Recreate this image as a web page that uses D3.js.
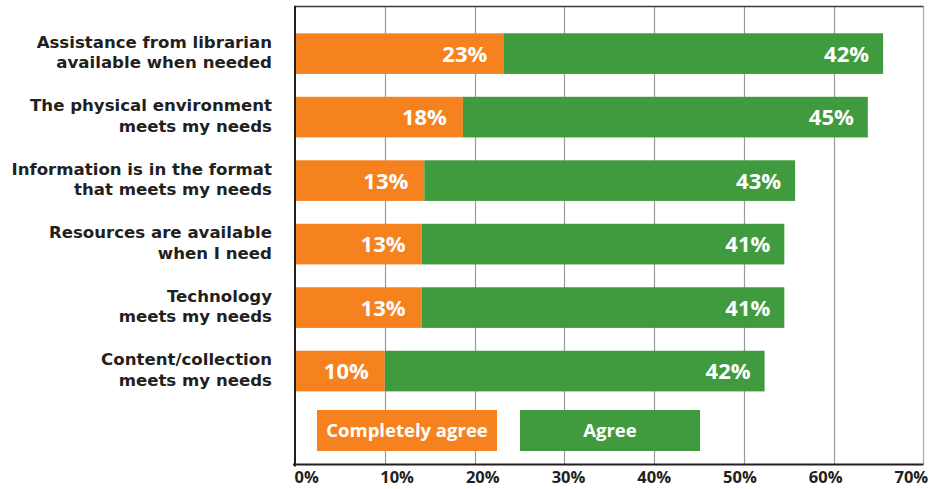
<!DOCTYPE html>
<html>
<head>
<meta charset="utf-8">
<script src="https://cdn.jsdelivr.net/npm/d3@7"></script>
<style>
  html, body { margin: 0; padding: 0; background: #ffffff; }
  svg { display: block; }
  text { font-family: "Open Sans", "Noto Sans", sans-serif; font-weight: 700; }
  text.cat { font-family: "DejaVu Sans", sans-serif; font-weight: 700; }
</style>
</head>
<body>
<svg id="chart" width="939" height="489"></svg>
<script>
// ---- data ----
const categories = [
  ["Assistance from librarian", "available when needed"],
  ["The physical environment", "meets my needs"],
  ["Information is in the format", "that meets my needs"],
  ["Resources are available", "when I need"],
  ["Technology", "meets my needs"],
  ["Content/collection", "meets my needs"]
];
const completelyAgree = [23.2, 18.7, 14.4, 14.1, 14.1, 10.0];
const agree = [42.3, 45.1, 41.3, 40.4, 40.4, 42.3];
const completelyAgreeLabels = ["23%", "18%", "13%", "13%", "13%", "10%"];
const agreeLabels = ["42%", "45%", "43%", "41%", "41%", "42%"];
const seriesNames = ["Completely agree", "Agree"];
const tickValues = [0, 10, 20, 30, 40, 50, 60, 70];
const tickLabels = ["0%", "10%", "20%", "30%", "40%", "50%", "60%", "70%"];

// ---- layout ----
const orange = "#F5821F", green = "#3F9B3D", ink = "#231F20";
const plotL = 295, plotR = 923.5, plotT = 6.5, plotB = 464.5;
const svg = d3.select("#chart");

const x = d3.scaleLinear().domain([0, 70]).range([plotL, plotR]);
const labelX = d3.scaleLinear().domain([0, 70]).range([294, 894]);
const idx = categories.map((d, i) => i);
const y = d3.scaleBand().domain(idx).range([33.3, 391.4]).paddingInner(0.36).paddingOuter(0);

// gridlines
svg.append("g").selectAll("line").data(tickValues.filter(v => v > 0 && v < 70)).join("line")
  .attr("x1", d => Math.round(x(d)) + 0.5).attr("x2", d => Math.round(x(d)) + 0.5)
  .attr("y1", plotT).attr("y2", plotB)
  .attr("stroke", "#9a9a9a").attr("stroke-width", 1.2);

// right border
svg.append("line").attr("x1", x(70)).attr("x2", x(70)).attr("y1", plotT).attr("y2", plotB)
  .attr("stroke", "#a8a8a8").attr("stroke-width", 1.2);
// top border
svg.append("line").attr("x1", plotL).attr("x2", x(70)).attr("y1", plotT).attr("y2", plotT)
  .attr("stroke", "#3a3a3a").attr("stroke-width", 1.5);

// bars
const rows = svg.append("g").selectAll("g").data(idx).join("g");
rows.append("rect")
  .attr("x", x(0)).attr("y", i => y(i))
  .attr("width", i => x(completelyAgree[i]) - x(0)).attr("height", y.bandwidth())
  .attr("fill", orange);
rows.append("rect")
  .attr("x", i => x(completelyAgree[i])).attr("y", i => y(i))
  .attr("width", i => x(completelyAgree[i] + agree[i]) - x(completelyAgree[i])).attr("height", y.bandwidth())
  .attr("fill", green);
rows.append("text")
  .attr("x", i => x(completelyAgree[i]) - 16).attr("y", i => y(i) + y.bandwidth() / 2 + 8)
  .attr("text-anchor", "end").attr("fill", "#fff").attr("font-size", 22)
  .text(i => completelyAgreeLabels[i]);
rows.append("text")
  .attr("x", i => x(completelyAgree[i] + agree[i]) - 14).attr("y", i => y(i) + y.bandwidth() / 2 + 8)
  .attr("text-anchor", "end").attr("fill", "#fff").attr("font-size", 22)
  .text(i => agreeLabels[i]);

// category labels (two lines each)
const catG = svg.append("g").selectAll("g").data(idx).join("g");
catG.append("text").attr("class", "cat")
  .attr("x", 272).attr("y", i => y(i) + y.bandwidth() / 2 - 6)
  .attr("text-anchor", "end").attr("fill", ink).attr("font-size", 16.6)
  .text(i => categories[i][0]);
catG.append("text").attr("class", "cat")
  .attr("x", 272).attr("y", i => y(i) + y.bandwidth() / 2 + 14.5)
  .attr("text-anchor", "end").attr("fill", ink).attr("font-size", 16.6)
  .text(i => categories[i][1]);

// legend
const legendY = 410, legendH = 41;
const legendItems = [
  { name: seriesNames[0], color: orange, x0: 317, w: 180 },
  { name: seriesNames[1], color: green, x0: 520, w: 180 }
];
const lg = svg.append("g").selectAll("g").data(legendItems).join("g");
lg.append("rect").attr("x", d => d.x0).attr("y", legendY).attr("width", d => d.w).attr("height", legendH)
  .attr("fill", d => d.color);
lg.append("text").attr("x", d => d.x0 + d.w / 2).attr("y", legendY + legendH / 2 + 6.5)
  .attr("text-anchor", "middle").attr("fill", "#fff").attr("font-size", 18.5)
  .text(d => d.name);

// axes lines
svg.append("line").attr("x1", plotL - 2).attr("x2", x(70)).attr("y1", plotB).attr("y2", plotB)
  .attr("stroke", "#231F20").attr("stroke-width", 2);
svg.append("line").attr("x1", plotL).attr("x2", plotL).attr("y1", plotT - 0.75).attr("y2", plotB + 2)
  .attr("stroke", "#231F20").attr("stroke-width", 2);

// tick labels (bottom axis)
const axis = d3.axisBottom(labelX).tickValues(tickValues).tickSize(0)
  .tickFormat((d, i) => tickLabels[i]);
const ag = svg.append("g").attr("transform", `translate(0,${plotB})`).call(axis);
ag.select(".domain").remove();
ag.selectAll("text").attr("text-anchor", "start").attr("dy", null).attr("y", 18.5)
  .attr("fill", ink).attr("font-size", 16.5)
  .style("font-family", '"Open Sans", sans-serif').style("font-weight", 700);
</script>
</body>
</html>
